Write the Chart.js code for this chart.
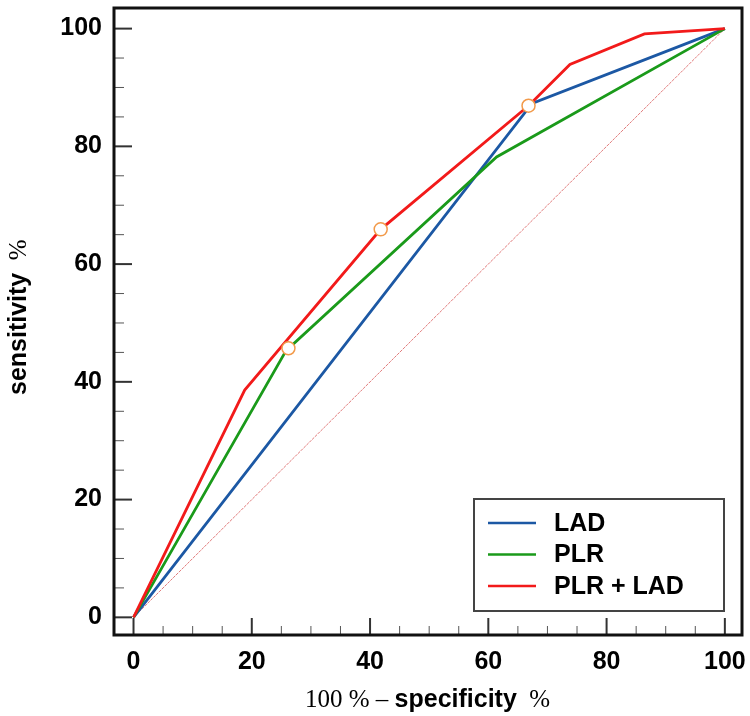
<!DOCTYPE html>
<html><head><meta charset="utf-8">
<script src="https://cdn.jsdelivr.net/npm/chart.js@4.4.1/dist/chart.umd.min.js"></script>
<style>html,body{margin:0;padding:0;background:#fff;}#wrap{width:750px;height:716px;}</style>
</head><body><div id="wrap"><canvas id="c" width="750" height="716"></canvas></div>
<script>
// ---- data ----
const seriesNames = ['LAD', 'PLR', 'PLR + LAD'];
const ladX = [0, 67.4, 100];
const ladY = [0, 87.3, 100];
const plrX = [0, 25.8, 61.4, 100];
const plrY = [0, 45.3, 78.2, 100];
const comboX = [0, 18.8, 41.8, 66.8, 73.8, 86.4, 100];
const comboY = [0, 38.6, 65.9, 86.9, 93.9, 99.1, 100];
const cutX = [26.2, 41.8, 66.8];
const cutY = [45.7, 65.9, 86.9];
const diagX = [0, 100];
const diagY = [0, 100];
const xTicks = [0, 20, 40, 60, 80, 100];
const yTicks = [0, 20, 40, 60, 80, 100];
const xTitleParts = ['100 % \u2013 ', 'specificity', '  %'];
const yTitleParts = ['sensitivity', '  %'];

const toPts = (xs, ys) => xs.map((x, i) => ({x: x, y: ys[i]}));
const SANS = "'Liberation Sans', Arial, sans-serif";
const SERIF = "'Liberation Serif', 'Times New Roman', serif";

const frameTicks = {
  id: 'frameTicks',
  afterDraw(chart) {
    const ctx = chart.ctx, ca = chart.chartArea;
    const xs = chart.scales.x, ys = chart.scales.y;
    ctx.save();
    for (let v = 0; v <= 100; v += 5) {
      const major = v % 20 === 0;
      ctx.strokeStyle = major ? '#333' : '#555';
      ctx.lineWidth = major ? 2 : 1;
      const px = xs.getPixelForValue(v);
      ctx.beginPath(); ctx.moveTo(px, ca.bottom); ctx.lineTo(px, ca.bottom - (major ? 17 : 9)); ctx.stroke();
      const py = ys.getPixelForValue(v);
      ctx.beginPath(); ctx.moveTo(ca.left, py); ctx.lineTo(ca.left + (major ? 18 : 10), py); ctx.stroke();
    }
    ctx.strokeStyle = '#111'; ctx.lineWidth = 3;
    ctx.strokeRect(ca.left, ca.top, ca.right - ca.left, ca.bottom - ca.top);
    // legend
    const items = chart.data.datasets.filter(d => d.inLegend);
    const bx = ca.right - 268, by = ca.bottom - 136, bw = 250, bh = 112;
    ctx.fillStyle = '#fff'; ctx.fillRect(bx, by, bw, bh);
    ctx.strokeStyle = '#444'; ctx.lineWidth = 2; ctx.strokeRect(bx, by, bw, bh);
    ctx.font = 'bold 25px ' + SANS; ctx.textBaseline = 'middle'; ctx.textAlign = 'left';
    items.forEach((d, i) => {
      const y = by + 24 + i * 31.5;
      ctx.strokeStyle = d.borderColor; ctx.lineWidth = 2.5;
      ctx.beginPath(); ctx.moveTo(bx + 14, y); ctx.lineTo(bx + 62, y); ctx.stroke();
      ctx.fillStyle = '#000'; ctx.fillText(d.label, bx + 80, y + 1);
    });
    // axis titles
    ctx.fillStyle = '#000'; ctx.textBaseline = 'alphabetic'; ctx.textAlign = 'left';
    const xFonts = ['25px ' + SERIF, 'bold 25px ' + SANS, '25px ' + SERIF];
    let tx = 305;
    xTitleParts.forEach((t, i) => { ctx.font = xFonts[i]; ctx.fillText(t, tx, 707); tx += ctx.measureText(t).width; });
    ctx.save();
    ctx.translate(26, 395); ctx.rotate(-Math.PI / 2);
    const yFonts = ['bold 25px ' + SANS, '25px ' + SERIF];
    let ty = 0;
    yTitleParts.forEach((t, i) => { ctx.font = yFonts[i]; ctx.fillText(t, ty, 0); ty += ctx.measureText(t).width; });
    ctx.restore();
    ctx.restore();
  }
};

const tickFont = {family: SANS, size: 25, weight: 'bold'};
const noPad = s => { s.paddingTop = 0; s.paddingBottom = 0; s.paddingLeft = 0; s.paddingRight = 0; };

new Chart(document.getElementById('c'), {
  type: 'scatter',
  data: {
    datasets: [
      {label: 'cutoff', data: toPts(cutX, cutY), showLine: false, pointRadius: 6.5, pointBorderWidth: 1.5,
       pointBorderColor: '#f29a4a', pointBackgroundColor: '#ffffff', order: 0},
      {label: seriesNames[0], inLegend: true, data: toPts(ladX, ladY), showLine: true, borderColor: '#1c58a4', borderWidth: 2.8, pointRadius: 0, order: 3},
      {label: seriesNames[1], inLegend: true, data: toPts(plrX, plrY), showLine: true, borderColor: '#1a9a1a', borderWidth: 2.8, pointRadius: 0, order: 2},
      {label: seriesNames[2], inLegend: true, data: toPts(comboX, comboY), showLine: true, borderColor: '#f21a1a', borderWidth: 2.8, pointRadius: 0, order: 1},
      {label: 'reference', data: toPts(diagX, diagY), showLine: true, borderColor: '#e07a7a', borderWidth: 1, borderDash: [3, 1], pointRadius: 0, order: 4}
    ]
  },
  options: {
    responsive: false, animation: false,
    layout: {padding: {top: 4, right: 6, left: 0, bottom: 0}},
    plugins: {legend: {display: false}, tooltip: {enabled: false}},
    scales: {
      x: {type: 'linear', min: -3.3, max: 102.9,
          afterBuildTicks: s => { s.ticks = xTicks.map(v => ({value: v})); },
          afterFit: s => { s.height = 81; noPad(s); },
          grid: {display: false, drawTicks: false}, border: {display: false},
          ticks: {font: tickFont, color: '#000', padding: 12, maxRotation: 0, autoSkip: false}},
      y: {type: 'linear', min: -3.0, max: 103.5,
          afterBuildTicks: s => { s.ticks = yTicks.map(v => ({value: v})); },
          afterFit: s => { s.width = 114; noPad(s); },
          grid: {display: false, drawTicks: false}, border: {display: false},
          ticks: {font: tickFont, color: '#000', padding: 12, autoSkip: false}}
    }
  },
  plugins: [frameTicks]
});
</script></body></html>
